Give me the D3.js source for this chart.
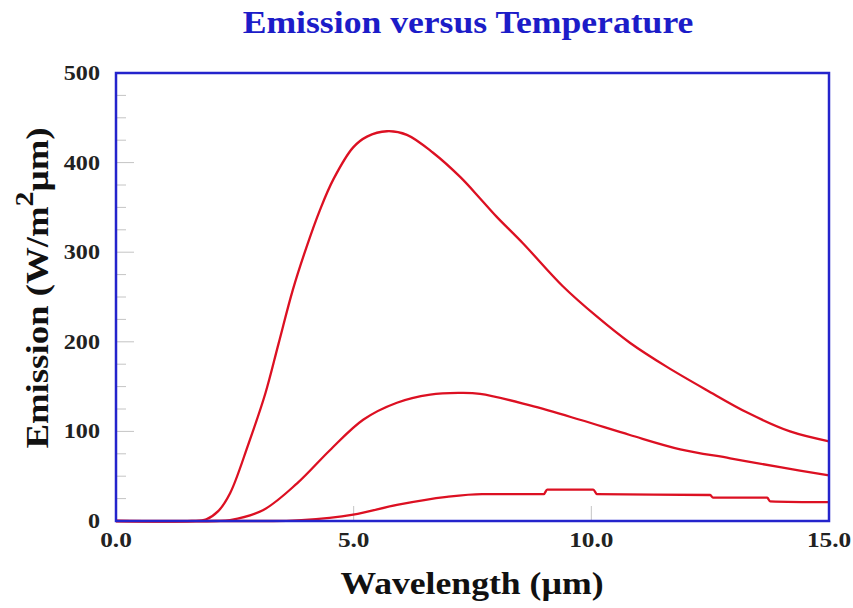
<!DOCTYPE html>
<html>
<head>
<meta charset="utf-8">
<script src="https://cdn.jsdelivr.net/npm/d3@7"></script>
<style>
    body { margin: 0; background: #fff; }
    svg { display: block; }
</style>
</head>
<body>
<div id="chart"></div>
<script>
// emission curves (wavelength in um, emission in W/m2um)
var hotX = [0, 1.6, 1.9, 2.15, 2.4, 2.78, 3.14, 3.42, 3.72, 4.01, 4.29, 4.57, 4.99, 5.28, 5.7, 6.12, 6.67, 7.24, 7.66, 8.0, 8.56, 9.4, 10.12, 10.81, 11.59, 12.43, 13.28, 14.18, 15];
var hotY = [0, 0, 2, 11, 31, 85, 142, 198, 258, 306, 347, 381, 417, 429, 435, 431, 411, 384, 360, 340, 310, 262, 228, 199, 172, 146, 121, 100, 89];

var midX = [0, 2.1, 2.4, 3.09, 3.81, 4.5, 5.2, 5.91, 6.61, 7.2, 7.66, 8.71, 9.76, 10.81, 11.87, 12.92, 13.97, 15];
var midY = [0, 0, 1, 12, 42, 79, 113, 132, 141, 143, 142, 129, 113, 96, 80, 70, 60, 51];

var lowX = [0, 3.3, 3.9, 4.99, 5.91, 6.96, 7.7, 9.0, 9.07, 10.04, 10.12, 12.5, 12.56, 13.7, 13.76, 15];
var lowY = [0, 0, 1, 7, 18, 27, 30, 30, 35, 35, 30, 29, 26, 26, 22, 21];

var xTicks = [0, 5, 10, 15];
var yTicks = [0, 100, 200, 300, 400, 500];
var yMinor = d3.range(0, 501, 25);

var W = 853, H = 608;
var margin = { top: 73, right: 24, bottom: 87, left: 116 };
var width = W - margin.left - margin.right;
var height = H - margin.top - margin.bottom;
var stretch = 1.15; // the lettering is a bit wider than plain Times

var svg = d3.select('#chart').append('svg').attr('width', W).attr('height', H);
var g = svg.append('g').attr('transform', 'translate(' + margin.left + ',' + margin.top + ')');

var x = d3.scaleLinear().domain([0, 15]).range([0, width]);
var y = d3.scaleLinear().domain([0, 500]).range([height, 0]);

function pairs(xs, ys) {
    return xs.map(function (v, i) { return { x: v, y: ys[i] }; });
}

// faint inside ticks
g.selectAll('.ytick').data(yMinor).enter().append('line')
    .attr('x1', 0).attr('x2', function (d) { return d % 100 == 0 ? 18 : 10; })
    .attr('y1', function (d) { return y(d); }).attr('y2', function (d) { return y(d); })
    .attr('stroke', '#c4c4c4').attr('stroke-width', 1);

g.selectAll('.xtick').data(xTicks).enter().append('line')
    .attr('x1', function (d) { return x(d); }).attr('x2', function (d) { return x(d); })
    .attr('y1', height).attr('y2', height - 15)
    .attr('stroke', '#c4c4c4').attr('stroke-width', 1);

function makeLine(curve) {
    return d3.line()
        .x(function (d) { return x(d.x); })
        .y(function (d) { return y(d.y); })
        .curve(curve);
}
var smooth = makeLine(d3.curveCatmullRom.alpha(0.5));
var steppy = makeLine(d3.curveMonotoneX);

[[lowX, lowY, steppy], [midX, midY, smooth], [hotX, hotY, smooth]].forEach(function (s) {
    g.append('path')
        .attr('d', s[2](pairs(s[0], s[1])))
        .attr('fill', 'none')
        .attr('stroke', '#dc1022')
        .attr('stroke-width', 2.3);
});

// blue frame
g.append('rect').attr('x', 0).attr('y', 0).attr('width', width).attr('height', height)
    .attr('fill', 'none').attr('stroke', '#2424cc').attr('stroke-width', 2.5);

var font = '"Liberation Serif", "Times New Roman", serif';

function label(parent, tx, ty, rot, size, anchor, color) {
    return parent.append('g')
        .attr('transform', 'translate(' + tx + ',' + ty + ') rotate(' + rot + ') scale(' + stretch + ',1)')
        .append('text')
        .attr('text-anchor', anchor)
        .attr('font-family', font).attr('font-weight', 'bold').attr('font-size', size)
        .attr('fill', color);
}

// tick labels
yTicks.forEach(function (d) {
    label(g, -16, y(d) + 7, 0, 21, 'end', '#222').text(d);
});
xTicks.forEach(function (d) {
    label(g, x(d), height + 26, 0, 22, 'middle', '#222').text(d.toFixed(1));
});

// title
label(svg, 468, 33, 0, 31, 'middle', '#1c1cc8').text('Emission versus Temperature');

// axis titles
label(svg, 472, 594, 0, 31, 'middle', '#111').text('Wavelength (\u00b5m)');

var yl = label(svg, 48, 288, -90, 32, 'middle', '#111');
yl.append('tspan').text('Emission (W/m');
yl.append('tspan').attr('dy', -15).attr('font-size', 26).text('2');
yl.append('tspan').attr('dy', 15).text('\u00b5m)');
</script>
</body>
</html>
